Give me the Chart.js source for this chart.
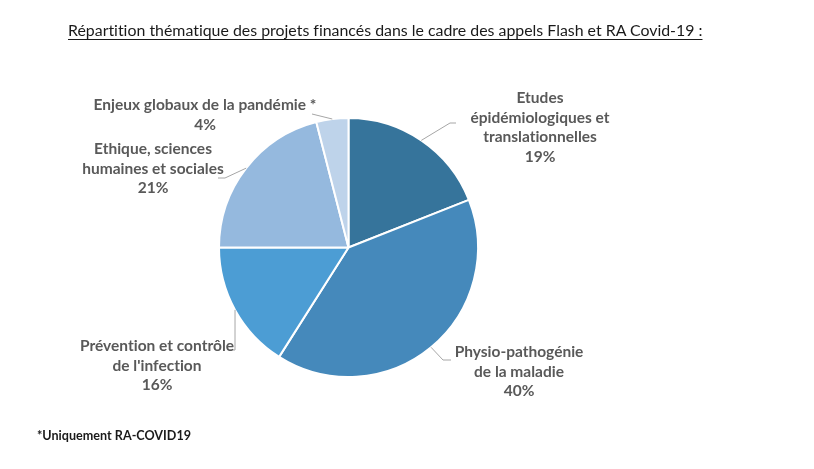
<!DOCTYPE html>
<html>
<head>
<meta charset="utf-8">
<script src="https://cdn.jsdelivr.net/npm/chart.js@4/dist/chart.umd.min.js"></script>
<style>
  body { margin: 0; background: #fff; font-family: Lato, sans-serif; font-variant-ligatures: none; }
  #wrap { position: relative; width: 814px; height: 469px; }
  #chart { position: absolute; left: 0; top: 0; }
  #title { position: absolute; left: 68px; top: 20px; font-size: 15.9px; color: #1a1a1a;
           text-decoration: underline; text-underline-offset: 3px; white-space: nowrap; }
  #note { position: absolute; left: 37px; top: 428px; font-size: 12.6px; font-weight: bold; color: #1a1a1a; }
</style>
</head>
<body>
<div id="wrap">
  <canvas id="chart" width="814" height="469"></canvas>
  <div id="title">Répartition thématique des projets financés dans le cadre des appels Flash et RA Covid-19 :</div>
  <div id="note">*Uniquement RA-COVID19</div>
</div>
<script>
// themes, clockwise from 12 o'clock
const categories = [
  ["Etudes", "épidémiologiques et", "translationnelles"],
  ["Physio-pathogénie", "de la maladie"],
  ["Prévention et contrôle", "de l'infection"],
  ["Ethique, sciences", "humaines et sociales"],
  ["Enjeux globaux de la pandémie *"],
];
const values = [19, 40, 16, 21, 4];
const colors = ["#36749b", "#4589bb", "#4c9dd4", "#95b9de", "#bed3ea"];

// where each label sits and how its leader line bends
const places = [
  { x: 540, y: 98, line: [[450, 123], [456, 123]] },
  { x: 519, y: 352, line: [[443, 360], [451, 360]] },
  { x: 157, y: 346, line: [[235, 350], [229, 350]] },
  { x: 153, y: 149, line: [[225, 178], [218, 178]] },
  { x: 205, y: 105, line: [[312, 114]] },
];

const sliceLabels = {
  id: "sliceLabels",
  afterDatasetsDraw(chart) {
    const ctx = chart.ctx;
    const total = values.reduce((a, b) => a + b, 0);
    chart.getDatasetMeta(0).data.forEach((arc, i) => {
      const p = places[i];
      const mid = (arc.startAngle + arc.endAngle) / 2;
      const sx = arc.x + Math.cos(mid) * arc.outerRadius;
      const sy = arc.y + Math.sin(mid) * arc.outerRadius;
      ctx.save();
      ctx.strokeStyle = "#a6a6a6";
      ctx.lineWidth = 1;
      ctx.beginPath();
      ctx.moveTo(sx, sy);
      p.line.forEach(([x, y]) => ctx.lineTo(x, y));
      ctx.stroke();

      ctx.font = "bold 15.5px Lato";
      ctx.fillStyle = "#595959";
      ctx.textAlign = "center";
      ctx.textBaseline = "middle";
      const lines = [...categories[i], Math.round(values[i] / total * 100) + "%"];
      lines.forEach((t, k) => ctx.fillText(t, p.x, p.y + k * 19.5));
      ctx.restore();
    });
  },
};

new Chart("chart", {
  type: "pie",
  data: {
    labels: categories.map(c => c.join(" ")),
    datasets: [{
      data: values,
      backgroundColor: colors,
      borderColor: "#ffffff",
      borderWidth: 2,
    }],
  },
  options: {
    responsive: false,
    animation: false,
    events: [],
    layout: { padding: { left: 218, right: 335, top: 117, bottom: 91 } },
    plugins: {
      legend: { display: false },
      tooltip: { enabled: false },
    },
  },
  plugins: [sliceLabels],
});
</script>
</body>
</html>
